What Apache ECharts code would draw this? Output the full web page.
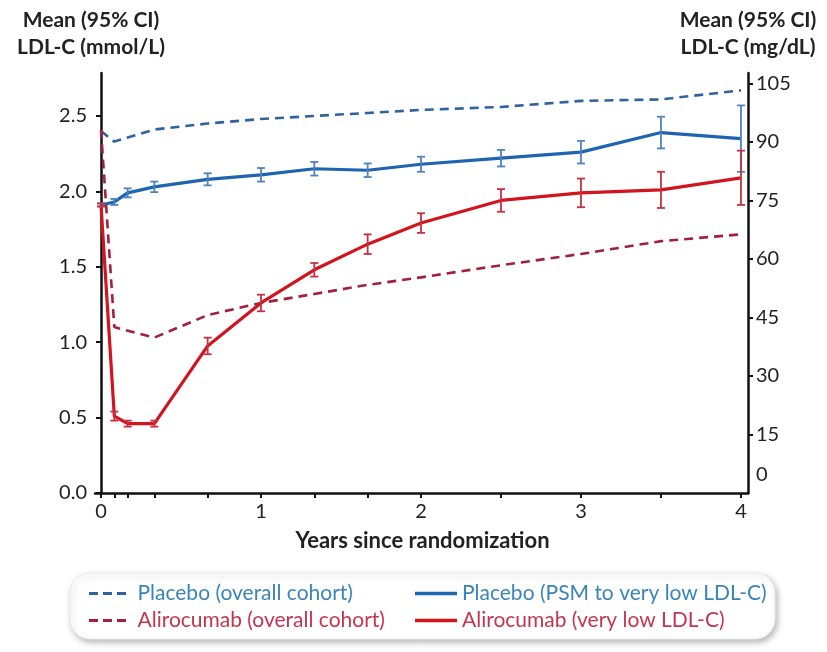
<!DOCTYPE html>
<html>
<head>
<meta charset="utf-8">
<script src="https://cdn.jsdelivr.net/npm/echarts@6/dist/echarts.min.js"></script>
<style>html,body{margin:0;padding:0;background:#fff;}#chart{width:827px;height:652px;}</style>
</head>
<body>
<div id="chart"></div>
<script>
// ---- data (LDL-C in mmol/L, time in years) ----
const timesVeryLow = [0, 1/12, 2/12, 4/12, 8/12, 1, 16/12, 20/12, 2, 2.5, 3, 3.5, 4];
const placeboPSM      = [1.91, 1.93, 1.99, 2.03, 2.08, 2.11, 2.15, 2.14, 2.18, 2.22, 2.26, 2.39, 2.35];
const placeboPSMci    = [0.01, 0.02, 0.03, 0.035, 0.04, 0.045, 0.045, 0.045, 0.05, 0.055, 0.075, 0.105, 0.22];
const aliroVeryLow    = [1.91, 0.51, 0.46, 0.46, 0.975, 1.26, 1.48, 1.65, 1.79, 1.94, 1.99, 2.01, 2.09];
const aliroVeryLowCi  = [0.01, 0.03, 0.02, 0.02, 0.055, 0.055, 0.045, 0.065, 0.065, 0.075, 0.095, 0.12, 0.18];

const timesOverall    = [0, 1/12, 4/12, 8/12, 1, 16/12, 20/12, 2, 2.5, 3, 3.5, 4];
const placeboOverall  = [2.40, 2.33, 2.41, 2.45, 2.48, 2.50, 2.52, 2.54, 2.56, 2.60, 2.61, 2.67];
const aliroOverall    = [2.41, 1.10, 1.03, 1.18, 1.26, 1.32, 1.38, 1.43, 1.51, 1.585, 1.67, 1.715];

const xLabelValues  = [0, 1, 2, 3, 4];
const xTickValues   = timesVeryLow;
const yLeftLabels   = [0, 0.5, 1.0, 1.5, 2.0, 2.5];
const yRightLabels  = [0, 15, 30, 45, 60, 75, 90, 105];
const MGDL_PER_MMOL = 38.67;

const seriesNames = {
  pOverall: 'Placebo (overall cohort)',
  aOverall: 'Alirocumab (overall cohort)',
  pPSM: 'Placebo (PSM to very low LDL-C)',
  aLow: 'Alirocumab (very low LDL-C)'
};

// ---- styling ----
const FONT = 'Lato';
const C = {
  pDash: '#2f629e', aDash: '#a3203c', pSolid: '#1f64b0', aSolid: '#d2141f',
  pBar: '#4d84bf', aBar: '#c83040', pText: '#3a84b8', aText: '#c4354f'
};
const yMaxLeft = 2.785;
const DASH_ICON = 'path://M0,0h9v3h-9z M14,0h9v3h-9z M28,0h9v3h-9z';

function pairs(xs, ys) { return xs.map((x, i) => [x, ys[i]]); }
function ciData(xs, m, ci) { return xs.map((x, i) => [x, m[i] - ci[i], m[i] + ci[i]]); }
function errorBars(color) {
  return function (params, api) {
    const x = api.value(0), lo = api.value(1), hi = api.value(2);
    const a = api.coord([x, hi]), b = api.coord([x, lo]);
    const w = 4;
    const st = { stroke: color, lineWidth: 1.8, fill: null };
    return { type: 'group', children: [
      { type: 'line', shape: { x1: a[0], y1: a[1], x2: b[0], y2: b[1] }, style: st },
      { type: 'line', shape: { x1: a[0] - w, y1: a[1], x2: a[0] + w, y2: a[1] }, style: st },
      { type: 'line', shape: { x1: b[0] - w, y1: b[1], x2: b[0] + w, y2: b[1] }, style: st }
    ]};
  };
}

const chart = echarts.init(document.getElementById('chart'), null, { renderer: 'canvas' });
const axisLine = { show: true, lineStyle: { color: '#111', width: 2.5 } };
const labelStyle = { color: '#222', fontSize: 20, fontFamily: FONT };
const titleStyle = { fontSize: 21, fontWeight: 'bold', color: '#222', lineHeight: 27, fontFamily: FONT };

chart.setOption({
  animation: false,
  backgroundColor: '#fff',
  textStyle: { fontFamily: FONT },
  grid: { left: 95, right: 79, top: 73, bottom: 159, containLabel: false },
  graphic: [{
    type: 'rect', z: 0, silent: true,
    shape: { x: 70, y: 573, width: 705, height: 66, r: 20 },
    style: { fill: '#fff', stroke: '#ececec', lineWidth: 1,
             shadowBlur: 6, shadowColor: 'rgba(0,0,0,0.28)', shadowOffsetX: 2, shadowOffsetY: 3 }
  }],
  legend: [{
    left: 84, top: 578, orient: 'vertical', itemWidth: 50, itemHeight: 3, itemGap: 6,
    icon: DASH_ICON, selectedMode: false, z: 10,
    textStyle: { fontSize: 21, lineHeight: 21, fontFamily: FONT },
    data: [
      { name: seriesNames.pOverall, textStyle: { color: C.pText } },
      { name: seriesNames.aOverall, textStyle: { color: C.aText } }
    ]
  }, {
    left: 410, top: 578, orient: 'vertical', itemWidth: 42, itemHeight: 3.5, itemGap: 6,
    icon: 'rect', selectedMode: false, z: 10,
    textStyle: { fontSize: 21, lineHeight: 21, fontFamily: FONT },
    data: [
      { name: seriesNames.pPSM, textStyle: { color: C.pText } },
      { name: seriesNames.aLow, textStyle: { color: C.aText } }
    ]
  }],
  xAxis: {
    type: 'value', min: -0.0375, max: 4.044,
    name: 'Years since randomization', nameLocation: 'middle', nameGap: 37,
    nameTextStyle: { fontSize: 22, fontWeight: 'bold', color: '#222', fontFamily: FONT, padding: [0, 0, 0, 2] },
    axisLine: axisLine,
    axisTick: { show: true, length: 5, lineStyle: { color: '#111', width: 2 }, customValues: xTickValues },
    axisLabel: Object.assign({ margin: 9, customValues: xLabelValues, formatter: v => String(v) }, labelStyle),
    splitLine: { show: false }
  },
  yAxis: [{
    type: 'value', min: 0, max: yMaxLeft, position: 'left',
    name: 'Mean (95% CI)\nLDL-C (mmol/L)', nameLocation: 'end', nameGap: 12,
    nameTextStyle: Object.assign({ padding: [0, 20, 0, 0] }, titleStyle),
    axisLine: axisLine,
    axisTick: { show: true, length: 5, lineStyle: { color: '#111', width: 2 }, customValues: yLeftLabels },
    axisLabel: Object.assign({ margin: 8, customValues: yLeftLabels, formatter: v => v.toFixed(1) }, labelStyle),
    splitLine: { show: false }
  }, {
    type: 'value', min: 0, max: yMaxLeft * MGDL_PER_MMOL, position: 'right',
    name: 'Mean (95% CI)\nLDL-C (mg/dL)', nameLocation: 'end', nameGap: 12,
    nameTextStyle: titleStyle,
    axisLine: axisLine,
    axisTick: { show: true, length: 5, lineStyle: { color: '#111', width: 2 }, customValues: yRightLabels.slice(1) },
    axisLabel: Object.assign({
      margin: 8, customValues: yRightLabels,
      formatter: v => v === 0 ? '{z|0}' : String(v),
      rich: { z: { fontSize: 20, fontFamily: FONT, color: '#222', padding: [0, 0, 36, 0] } }
    }, labelStyle),
    splitLine: { show: false }
  }],
  series: [
    { name: seriesNames.pOverall, type: 'line', yAxisIndex: 0, symbol: 'none', z: 3,
      data: pairs(timesOverall, placeboOverall), color: C.pDash,
      lineStyle: { color: C.pDash, width: 2.6, type: [9, 6] } },
    { name: seriesNames.aOverall, type: 'line', yAxisIndex: 0, symbol: 'none', z: 3,
      data: pairs(timesOverall, aliroOverall), color: C.aDash,
      lineStyle: { color: C.aDash, width: 2.6, type: [9, 6] } },
    { name: seriesNames.pPSM, type: 'line', yAxisIndex: 0, symbol: 'none', z: 4,
      data: pairs(timesVeryLow, placeboPSM), color: C.pSolid,
      lineStyle: { color: C.pSolid, width: 3.2 } },
    { name: seriesNames.aLow, type: 'line', yAxisIndex: 0, symbol: 'none', z: 4,
      data: pairs(timesVeryLow, aliroVeryLow), color: C.aSolid,
      lineStyle: { color: C.aSolid, width: 3.2 } },
    { name: 'pci', type: 'custom', yAxisIndex: 0, z: 5, silent: true,
      renderItem: errorBars(C.pBar), data: ciData(timesVeryLow, placeboPSM, placeboPSMci) },
    { name: 'aci', type: 'custom', yAxisIndex: 0, z: 5, silent: true,
      renderItem: errorBars(C.aBar), data: ciData(timesVeryLow, aliroVeryLow, aliroVeryLowCi) }
  ]
});
</script>
</body>
</html>
